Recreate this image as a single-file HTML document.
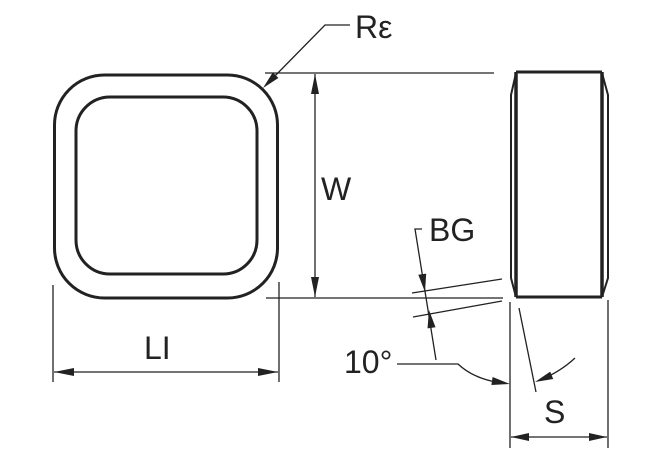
<!DOCTYPE html>
<html><head><meta charset="utf-8"><style>
html,body{margin:0;padding:0;background:#fff;}
svg{display:block}
text{font-family:"Liberation Sans",sans-serif;fill:#222}
</style></head><body>
<svg width="670" height="460" viewBox="0 0 670 460" xmlns="http://www.w3.org/2000/svg">
<g fill="none" stroke="#222">
<rect x="54.5" y="75" width="223" height="223" rx="50" stroke-width="3"/>
<rect x="76" y="97" width="181" height="177" rx="34" stroke-width="3"/>
<path d="M516,72 L602,72 M516,297 L602,297" stroke-width="3"/>
<path d="M516,72 L516,297 M602,72 L602,297" stroke-width="3.5"/>
<path d="M516,73 L511,95 L511,278 L516,297 M602,73 L608,95 L608,278 L602,297" stroke-width="2"/>
<g stroke-width="1.3">
<path d="M265,73 L494,73 M266,298 L503,298"/>
<path d="M53,285 L53,382 M279,282 L279,382"/>
<path d="M510,302 L510,448 M608,300 L608,448"/>
<path d="M270,81 L325,25 L350,25"/>
<path d="M315,297 L315,74"/>
<path d="M54,372 L278,372"/>
<path d="M511,437 L607,437"/>
<path d="M412,293 L502,279 M413,317 L502,301"/>
<path d="M422,229 L415,229 L436,360"/>
<path d="M519,308 L536,392"/>
<path d="M397,364 L458,364 Q475,380 505,383.5"/>
<path d="M575,358 Q560,372 540,380"/>
</g>
</g>
<g fill="#222">
<polygon points="315,74 311,94 319,94"/>
<polygon points="315,297 311,277 319,277"/>
<polygon points="54,372 74,368 74,376"/>
<polygon points="278,372 258,368 258,376"/>
<polygon points="511,437 529,433 529,441"/>
<polygon points="607,437 589,433 589,441"/>
<polygon points="263,88 278.4,78 272.8,72.4"/>
<polygon points="425,292 426.2,273.6 418.3,274.8"/>
<polygon points="429,310 435.5,327.2 427.5,328.4"/>
<polygon points="510,384 492.6,377 491.4,385"/>
<polygon points="535,382 553.2,379 550.2,371.6"/>
</g>
<text x="355" y="38" font-size="32">Rε</text>
<text x="321" y="200" font-size="32">W</text>
<text x="429" y="241" font-size="32">BG</text>
<text x="144" y="359" font-size="32">LI</text>
<text x="344" y="373" font-size="32">10°</text>
<text x="544" y="423" font-size="32">S</text>
</svg>
</body></html>
